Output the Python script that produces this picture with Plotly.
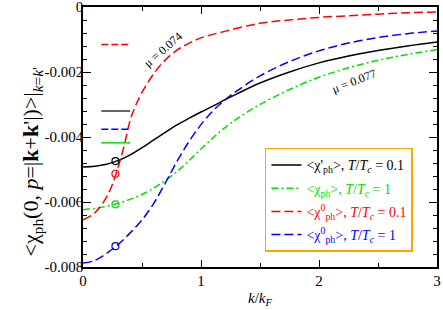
import plotly.graph_objects as go

# ---- data ----
k = [0, 0.1, 0.2, 0.3, 0.4, 0.5, 0.6, 0.7, 0.8, 0.9, 1.0, 1.1, 1.2, 1.3,
     1.5, 1.75, 2.0, 2.25, 2.5, 2.75, 3.0]

chi_p_T01 = [-0.00492, -0.00490, -0.00484, -0.00472, -0.00455, -0.00433, -0.00409,
             -0.00385, -0.00362, -0.00342, -0.00323, -0.00305, -0.00286, -0.00268,
             -0.00234, -0.00200, -0.00172, -0.00151, -0.00134, -0.00120, -0.00108]

chi_p_T1 = [-0.00624, -0.00620, -0.00613, -0.00604, -0.00592, -0.00577, -0.00557,
            -0.00533, -0.00505, -0.00472, -0.00437, -0.00403, -0.00372, -0.00345,
            -0.00300, -0.00254, -0.00216, -0.00187, -0.00164, -0.00146, -0.00131]

k_red = [0, 0.1, 0.2, 0.25, 0.3, 0.35, 0.4, 0.45, 0.5, 0.6, 0.7, 0.8, 0.9, 1.0,
         1.2, 1.5, 1.75, 2.0, 2.25, 2.5, 2.75, 3.0]
chi0_T01 = [-0.00655, -0.00633, -0.00585, -0.00545, -0.00490, -0.00425, -0.00348,
            -0.00300, -0.00263, -0.00205, -0.00162, -0.00132, -0.00111, -0.00095,
            -0.00075, -0.00050, -0.00040, -0.00032, -0.00027, -0.00022, -0.00018, -0.00015]

chi0_T1 = [-0.00788, -0.00780, -0.00758, -0.00730, -0.00695, -0.00655, -0.00604,
           -0.00540, -0.00473, -0.00413, -0.00362, -0.00320, -0.00287, -0.00259,
           -0.00212, -0.00168, -0.00135, -0.00111, -0.00094, -0.00082, -0.00074]

# circled points
k_mark = 0.275
mark_vals = [-0.00474, -0.00607, -0.00513, -0.00736]   # black, green, red, blue

# short reference segments on the left
ref_k = [0.155, 0.40]
ref_red = -0.00115
ref_black = -0.00320
ref_blue = -0.00376
ref_green = -0.00418

y_tickvals = [0, -0.002, -0.004, -0.006, -0.008]
y_ticktext = ["0", "-0.002", "-0.004", "-0.006", "-0.008"]
x_tickvals = [0, 1, 2, 3]
x_ticktext = ["0", "1", "2", "3"]

BLACK = "#000000"
GREEN = "#00e000"
RED = "#ff0000"
BLUE = "#0000ff"
FONT = "Liberation Serif"

fig = go.Figure()

def lg(color, txt):
    return f'<span style="color:{color}">{txt}</span>'

fig.add_trace(go.Scatter(x=k, y=chi_p_T01, mode="lines", line=dict(color=BLACK, width=1.5, shape="spline"),
                         name=lg(BLACK, "&lt;χ'<sub>ph</sub>&gt;, <i>T</i>/<i>T<sub>c</sub></i> = 0.1"),
                         legendgroup="a"))
fig.add_trace(go.Scatter(x=k, y=chi_p_T1, mode="lines",
                         line=dict(color=GREEN, width=1.5, dash="7px,3px,2px,3px", shape="spline"),
                         name=lg(GREEN, "&lt;χ<sub>ph</sub>&gt;, <i>T</i>/<i>T<sub>c</sub></i> = 1"),
                         legendgroup="b"))
fig.add_trace(go.Scatter(x=k_red, y=chi0_T01, mode="lines",
                         line=dict(color=RED, width=1.5, dash="9px,4px", shape="spline"),
                         name=lg(RED, "&lt;χ<sup>0</sup><sub>ph</sub>&gt;, <i>T</i>/<i>T<sub>c</sub></i> = 0.1"),
                         legendgroup="c"))
fig.add_trace(go.Scatter(x=k, y=chi0_T1, mode="lines",
                         line=dict(color=BLUE, width=1.5, dash="9px,4px", shape="spline"),
                         name=lg(BLUE, "&lt;χ<sup>0</sup><sub>ph</sub>&gt;, <i>T</i>/<i>T<sub>c</sub></i> = 1"),
                         legendgroup="d"))

# circles
for v, c in zip(mark_vals, [BLACK, GREEN, RED, BLUE]):
    fig.add_trace(go.Scatter(x=[k_mark], y=[v], mode="markers", showlegend=False,
                             marker=dict(symbol="circle-open", size=7, color=c, line=dict(width=1.2))))

# reference segments
for v, c, d in [(ref_red, RED, "7px,3px"), (ref_black, "#333333", "solid"),
                (ref_blue, BLUE, "7px,3px"), (ref_green, GREEN, "solid")]:
    fig.add_trace(go.Scatter(x=ref_k, y=[v, v], mode="lines", showlegend=False,
                             line=dict(color=c, width=1.5, dash=d)))

fig.add_annotation(x=0.674, y=-0.00132, text="μ = 0.074", showarrow=False, textangle=-41,
                   font=dict(family=FONT, size=12, color="black"))
fig.add_annotation(x=2.3, y=-0.00228, text="μ = 0.077", showarrow=False, textangle=-21,
                   font=dict(family=FONT, size=12, color="black"))

# y title
fig.add_annotation(xref="paper", yref="paper", x=-0.19, y=0.405, showarrow=False, textangle=-90,
                   text="&lt;χ<sub>ph</sub>(0, <i>p</i>=|<b>k</b>+<b>k</b>'|)&gt;|<sub><i>k</i>=<i>k</i>'</sub>",
                   font=dict(family=FONT, size=22, color="black"))
# x title
fig.add_annotation(xref="paper", yref="paper", x=0.5, y=-0.123, showarrow=False, yanchor="middle",
                   text="<i>k</i>/<i>k<sub>F</sub></i>",
                   font=dict(family=FONT, size=15, color="black"))

axis_common = dict(showline=True, linecolor="black", linewidth=1.5, mirror="ticks", automargin=False,
                   ticks="inside", tickcolor="black", tickwidth=1.2, showgrid=False, zeroline=False,
                   ticklabeloverflow="allow",
                   tickfont=dict(family=FONT, size=15, color="black"))

fig.update_xaxes(range=[0, 3], tickmode="array", tickvals=x_tickvals, ticktext=x_ticktext, ticklen=7,
                 ticklabelstandoff=-1,
                 minor=dict(dtick=0.5, ticklen=4, ticks="inside", tickcolor="black", tickwidth=1.2),
                 **axis_common)
fig.update_yaxes(range=[-0.008, 0], tickmode="array", tickvals=y_tickvals, ticktext=y_ticktext, ticklen=8,
                 ticklabelstandoff=-5,
                 minor=dict(dtick=0.0004, ticklen=4, ticks="inside", tickcolor="black", tickwidth=1.2),
                 **axis_common)

fig.update_layout(
    width=443, height=310,
    margin=dict(l=83, r=6, t=7, b=43),
    plot_bgcolor="white", paper_bgcolor="white",
    font=dict(family=FONT, size=14, color="black"),
    legend=dict(x=0.514, y=0.458, xanchor="left", yanchor="top",
                bgcolor="white", bordercolor="#FFA500", borderwidth=1.5,
                font=dict(family=FONT, size=14), tracegroupgap=2, traceorder="grouped"),
    showlegend=True,
)

fig.write_html("out.html", config={"displayModeBar": False},
               post_script="document.body.style.margin='0';document.body.style.overflow='hidden';")
